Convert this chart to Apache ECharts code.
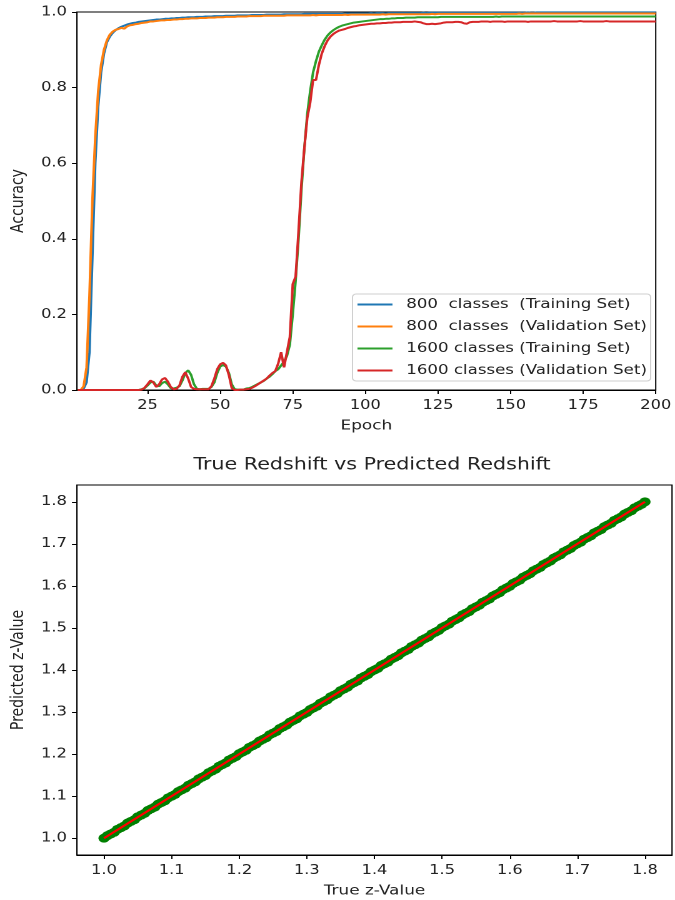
<!DOCTYPE html>
<html>
<head>
<meta charset="utf-8">
<script src="https://cdn.jsdelivr.net/npm/echarts@6/dist/echarts.min.js"></script>
<style>
html,body{margin:0;padding:0;background:#fff;overflow:hidden}
#wrap{width:675px;height:900px;overflow:hidden}
#c{width:540px;height:900px;transform:scaleX(1.25);transform-origin:0 0}
</style>
</head>
<body>
<div id="wrap"><div id="c"></div></div>
<script>
// ---------- Top chart data (accuracy per epoch 1..200) ----------
var epochTicks = [25, 50, 75, 100, 125, 150, 175, 200];
var accTicks = [0, 0.2, 0.4, 0.6, 0.8, 1.0];
var seriesNames = [
  "800  classes  (Training Set)",
  "800  classes  (Validation Set)",
  "1600 classes (Training Set)",
  "1600 classes (Validation Set)"
];
var train800 = [
  0, 0, 0.004, 0.02, 0.1, 0.35, 0.6, 0.75, 0.84, 0.89,
  0.92, 0.935, 0.945, 0.952, 0.957, 0.961, 0.964, 0.967, 0.969, 0.971,
  0.972, 0.974, 0.975, 0.976, 0.977, 0.978, 0.979, 0.98, 0.98, 0.981,
  0.982, 0.982, 0.983, 0.983, 0.984, 0.984, 0.985, 0.985, 0.986, 0.986,
  0.986, 0.987, 0.987, 0.987, 0.988, 0.988, 0.988, 0.989, 0.989, 0.989,
  0.989, 0.99, 0.99, 0.99, 0.99, 0.991, 0.991, 0.991, 0.991, 0.991,
  0.992, 0.992, 0.992, 0.992, 0.992, 0.993, 0.993, 0.993, 0.993, 0.993,
  0.993, 0.994, 0.994, 0.994, 0.994, 0.994, 0.994, 0.994, 0.995, 0.995,
  0.995, 0.995, 0.995, 0.995, 0.995, 0.995, 0.995, 0.995, 0.995, 0.995,
  0.995, 0.995, 0.996, 0.996, 0.996, 0.996, 0.996, 0.996, 0.996, 0.996,
  0.996, 0.997, 0.996, 0.997, 0.997, 0.997, 0.996, 0.997, 0.997, 0.997,
  0.997, 0.997, 0.997, 0.997, 0.997, 0.997, 0.997, 0.997, 0.997, 0.998,
  0.997, 0.998, 0.998, 0.998, 0.998, 0.998, 0.998, 0.998, 0.998, 0.998,
  0.998, 0.998, 0.998, 0.998, 0.998, 0.998, 0.998, 0.998, 0.998, 0.998,
  0.998, 0.998, 0.998, 0.998, 0.998, 0.998, 0.998, 0.998, 0.998, 0.998,
  0.998, 0.998, 0.998, 0.998, 0.998, 0.999, 0.998, 0.998, 0.999, 0.999,
  0.999, 0.999, 0.999, 0.999, 0.999, 0.999, 0.999, 0.999, 0.999, 0.999,
  0.999, 0.999, 0.999, 0.999, 0.999, 0.999, 0.999, 0.999, 0.999, 0.999,
  0.999, 0.999, 0.999, 0.999, 0.999, 0.999, 0.999, 0.999, 0.999, 0.999,
  0.999, 0.999, 0.999, 0.999, 0.999, 0.999, 0.999, 0.999, 0.999, 0.999
];
var val800 = [
  0, 0, 0.01, 0.06, 0.25, 0.5, 0.67, 0.79, 0.86, 0.9,
  0.925, 0.94, 0.948, 0.953, 0.955, 0.958, 0.956, 0.962, 0.965, 0.966,
  0.968, 0.969, 0.971, 0.972, 0.973, 0.975, 0.975, 0.976, 0.977, 0.978,
  0.978, 0.979, 0.979, 0.98, 0.98, 0.981, 0.981, 0.982, 0.982, 0.983,
  0.983, 0.983, 0.984, 0.984, 0.984, 0.985, 0.985, 0.985, 0.986, 0.986,
  0.986, 0.987, 0.987, 0.987, 0.987, 0.988, 0.988, 0.988, 0.988, 0.989,
  0.989, 0.989, 0.989, 0.989, 0.99, 0.99, 0.99, 0.99, 0.99, 0.99,
  0.99, 0.99, 0.991, 0.991, 0.991, 0.991, 0.991, 0.991, 0.991, 0.991,
  0.991, 0.992, 0.991, 0.992, 0.992, 0.992, 0.992, 0.992, 0.992, 0.992,
  0.992, 0.992, 0.993, 0.992, 0.993, 0.993, 0.993, 0.993, 0.993, 0.993,
  0.993, 0.993, 0.993, 0.993, 0.993, 0.994, 0.993, 0.994, 0.994, 0.994,
  0.994, 0.994, 0.994, 0.994, 0.994, 0.994, 0.994, 0.994, 0.994, 0.994,
  0.994, 0.994, 0.995, 0.994, 0.995, 0.995, 0.995, 0.995, 0.995, 0.995,
  0.995, 0.995, 0.995, 0.995, 0.995, 0.995, 0.995, 0.995, 0.995, 0.995,
  0.995, 0.995, 0.995, 0.995, 0.995, 0.995, 0.995, 0.995, 0.995, 0.995,
  0.995, 0.995, 0.996, 0.995, 0.996, 0.996, 0.996, 0.996, 0.996, 0.996,
  0.996, 0.996, 0.996, 0.996, 0.996, 0.996, 0.996, 0.996, 0.996, 0.996,
  0.996, 0.996, 0.996, 0.996, 0.996, 0.996, 0.996, 0.996, 0.996, 0.996,
  0.996, 0.996, 0.996, 0.996, 0.996, 0.996, 0.996, 0.996, 0.996, 0.996,
  0.996, 0.996, 0.996, 0.996, 0.996, 0.996, 0.996, 0.996, 0.996, 0.996
];
var train1600 = [
  0, 0, 0, 0, 0, 0, 0, 0, 0, 0,
  0, 0, 0, 0, 0, 0, 0, 0, 0, 0,
  0, 0, 0.002, 0.005, 0.012, 0.02, 0.022, 0.012, 0.01, 0.018,
  0.022, 0.015, 0.005, 0.004, 0.006, 0.01, 0.025, 0.045, 0.052, 0.04,
  0.015, 0.003, 0.002, 0.003, 0.003, 0.003, 0.008, 0.02, 0.045, 0.062,
  0.066, 0.062, 0.045, 0.015, 0.002, 0.001, 0.001, 0.001, 0.004, 0.005,
  0.008, 0.012, 0.016, 0.02, 0.024, 0.03, 0.035, 0.042, 0.05, 0.055,
  0.065, 0.075, 0.09, 0.12, 0.2, 0.29, 0.4, 0.53, 0.64, 0.73,
  0.79, 0.84, 0.87, 0.895, 0.912, 0.927, 0.938, 0.946, 0.952, 0.957,
  0.961, 0.964, 0.966, 0.968, 0.97, 0.972, 0.973, 0.974, 0.975, 0.976,
  0.977, 0.978, 0.979, 0.98, 0.981, 0.981, 0.982, 0.982, 0.983, 0.983,
  0.984, 0.984, 0.984, 0.985, 0.985, 0.985, 0.985, 0.986, 0.986, 0.986,
  0.986, 0.986, 0.986, 0.986, 0.986, 0.987, 0.987, 0.987, 0.987, 0.987,
  0.987, 0.987, 0.987, 0.987, 0.987, 0.987, 0.987, 0.987, 0.987, 0.987,
  0.987, 0.987, 0.987, 0.987, 0.988, 0.987, 0.988, 0.988, 0.988, 0.988,
  0.988, 0.988, 0.988, 0.988, 0.988, 0.988, 0.988, 0.988, 0.988, 0.988,
  0.988, 0.988, 0.988, 0.988, 0.988, 0.988, 0.988, 0.988, 0.988, 0.988,
  0.988, 0.988, 0.988, 0.988, 0.988, 0.988, 0.988, 0.988, 0.988, 0.988,
  0.988, 0.988, 0.988, 0.988, 0.988, 0.988, 0.988, 0.988, 0.988, 0.988,
  0.988, 0.988, 0.988, 0.988, 0.988, 0.988, 0.988, 0.988, 0.988, 0.988
];
var val1600 = [
  0, 0, 0, 0, 0, 0, 0, 0, 0, 0,
  0, 0, 0, 0, 0, 0, 0, 0, 0, 0,
  0, 0, 0.001, 0.006, 0.015, 0.025, 0.02, 0.008, 0.015, 0.028,
  0.032, 0.022, 0.008, 0.002, 0.003, 0.012, 0.035, 0.047, 0.03, 0.008,
  0.003, 0.002, 0.002, 0.002, 0.002, 0.002, 0.01, 0.03, 0.055, 0.068,
  0.072, 0.065, 0.04, 0.005, 0, 0, 0.001, 0.001, 0.002, 0.003,
  0.006, 0.01, 0.015, 0.02, 0.025, 0.03, 0.038, 0.045, 0.05, 0.07,
  0.1, 0.06, 0.1, 0.14, 0.28, 0.3, 0.42, 0.55, 0.64, 0.72,
  0.76, 0.82, 0.82, 0.86, 0.89, 0.91, 0.925, 0.935, 0.942, 0.947,
  0.951, 0.953, 0.955, 0.958, 0.96, 0.962, 0.963, 0.965, 0.966, 0.967,
  0.968, 0.969, 0.969, 0.97, 0.97, 0.971, 0.971, 0.972, 0.972, 0.973,
  0.973, 0.973, 0.974, 0.974, 0.974, 0.974, 0.975, 0.974, 0.973, 0.97,
  0.968, 0.968, 0.969, 0.968, 0.969, 0.97, 0.972, 0.973, 0.973, 0.973,
  0.974, 0.974, 0.973, 0.97, 0.969, 0.973, 0.974, 0.974, 0.974, 0.975,
  0.975, 0.975, 0.974, 0.975, 0.975, 0.975, 0.975, 0.974, 0.975, 0.975,
  0.975, 0.975, 0.975, 0.975, 0.975, 0.974, 0.975, 0.975, 0.975, 0.975,
  0.975, 0.975, 0.975, 0.975, 0.976, 0.975, 0.975, 0.975, 0.975, 0.975,
  0.975, 0.975, 0.975, 0.976, 0.975, 0.975, 0.975, 0.975, 0.975, 0.975,
  0.975, 0.975, 0.976, 0.975, 0.975, 0.975, 0.975, 0.975, 0.975, 0.975,
  0.975, 0.975, 0.975, 0.975, 0.975, 0.975, 0.975, 0.975, 0.975, 0.975
];

// ---------- Bottom chart data ----------
var zTicks = [1.0, 1.1, 1.2, 1.3, 1.4, 1.5, 1.6, 1.7, 1.8];
var trueZ = [
  1.000, 1.005, 1.010, 1.015, 1.020, 1.025, 1.030, 1.035, 1.040, 1.045,
  1.050, 1.055, 1.060, 1.065, 1.070, 1.075, 1.080, 1.085, 1.090, 1.095,
  1.100, 1.105, 1.110, 1.115, 1.120, 1.125, 1.130, 1.135, 1.140, 1.145,
  1.150, 1.155, 1.160, 1.165, 1.170, 1.175, 1.180, 1.185, 1.190, 1.195,
  1.200, 1.205, 1.210, 1.215, 1.220, 1.225, 1.230, 1.235, 1.240, 1.245,
  1.250, 1.255, 1.260, 1.265, 1.270, 1.275, 1.280, 1.285, 1.290, 1.295,
  1.300, 1.305, 1.310, 1.315, 1.320, 1.325, 1.330, 1.335, 1.340, 1.345,
  1.350, 1.355, 1.360, 1.365, 1.370, 1.375, 1.380, 1.385, 1.390, 1.395,
  1.400, 1.405, 1.410, 1.415, 1.420, 1.425, 1.430, 1.435, 1.440, 1.445,
  1.450, 1.455, 1.460, 1.465, 1.470, 1.475, 1.480, 1.485, 1.490, 1.495,
  1.500, 1.505, 1.510, 1.515, 1.520, 1.525, 1.530, 1.535, 1.540, 1.545,
  1.550, 1.555, 1.560, 1.565, 1.570, 1.575, 1.580, 1.585, 1.590, 1.595,
  1.600, 1.605, 1.610, 1.615, 1.620, 1.625, 1.630, 1.635, 1.640, 1.645,
  1.650, 1.655, 1.660, 1.665, 1.670, 1.675, 1.680, 1.685, 1.690, 1.695,
  1.700, 1.705, 1.710, 1.715, 1.720, 1.725, 1.730, 1.735, 1.740, 1.745,
  1.750, 1.755, 1.760, 1.765, 1.770, 1.775, 1.780, 1.785, 1.790, 1.795,
  1.800
];
var predZ = [
  1.000, 1.006, 1.010, 1.014, 1.021, 1.025, 1.029, 1.036, 1.040, 1.044,
  1.051, 1.055, 1.059, 1.066, 1.070, 1.074, 1.081, 1.085, 1.089, 1.096,
  1.100, 1.104, 1.111, 1.115, 1.119, 1.126, 1.130, 1.134, 1.141, 1.145,
  1.149, 1.156, 1.160, 1.164, 1.171, 1.175, 1.179, 1.186, 1.190, 1.194,
  1.201, 1.205, 1.209, 1.216, 1.220, 1.224, 1.231, 1.235, 1.239, 1.246,
  1.250, 1.254, 1.261, 1.265, 1.269, 1.276, 1.280, 1.284, 1.291, 1.295,
  1.299, 1.306, 1.310, 1.314, 1.321, 1.325, 1.329, 1.336, 1.340, 1.344,
  1.351, 1.355, 1.359, 1.366, 1.370, 1.374, 1.381, 1.385, 1.389, 1.396,
  1.400, 1.404, 1.411, 1.415, 1.419, 1.426, 1.430, 1.434, 1.441, 1.445,
  1.449, 1.456, 1.460, 1.464, 1.471, 1.475, 1.479, 1.486, 1.490, 1.494,
  1.501, 1.505, 1.509, 1.516, 1.520, 1.524, 1.531, 1.535, 1.539, 1.546,
  1.550, 1.554, 1.561, 1.565, 1.569, 1.576, 1.580, 1.584, 1.591, 1.595,
  1.599, 1.606, 1.610, 1.614, 1.621, 1.625, 1.629, 1.636, 1.640, 1.644,
  1.651, 1.655, 1.659, 1.666, 1.670, 1.674, 1.681, 1.685, 1.689, 1.696,
  1.700, 1.704, 1.711, 1.715, 1.719, 1.726, 1.730, 1.734, 1.741, 1.745,
  1.749, 1.756, 1.760, 1.764, 1.771, 1.775, 1.779, 1.786, 1.790, 1.794,
  1.800
];
var identityLine = [1.0, 1.8];

// ---------- Build options ----------
var colors = ['#1f77b4', '#ff7f0e', '#2ca02c', '#d62728'];
var accSeries = [train800, val800, train1600, val1600];
function pairs(vals) {
  var out = [];
  for (var i = 0; i < vals.length; i++) out.push([i + 1, vals[i]]);
  return out;
}
var scatterData = trueZ.map(function (t, i) { return [t, predZ[i]]; });
var font = 'DejaVu Sans';
var txt = '#222';
var axisLineStyle = { lineStyle: { color: '#000', width: 1 } };
var tickStyle = { show: true, inside: false, length: 4, lineStyle: { color: '#000' } };

var series = [];
accSeries.forEach(function (vals, k) {
  series.push({
    name: seriesNames[k], type: 'line', xAxisIndex: 0, yAxisIndex: 0,
    data: pairs(vals), symbol: 'none', showSymbol: false,
    lineStyle: { color: colors[k], width: 2 }, itemStyle: { color: colors[k] },
    animation: false
  });
});
series.push({
  type: 'scatter', xAxisIndex: 1, yAxisIndex: 1, data: scatterData,
  symbol: 'circle', symbolSize: 9, itemStyle: { color: '#008000', opacity: 1 },
  animation: false
});
series.push({
  type: 'line', xAxisIndex: 1, yAxisIndex: 1,
  data: identityLine.map(function (v) { return [v, v]; }),
  symbol: 'none', lineStyle: { color: '#ff0000', width: 2 }, animation: false
});

var option = {
  backgroundColor: '#fff',
  animation: false,
  textStyle: { fontFamily: font },
  grid: [
    { left: 56, top: 12, width: 472, height: 378, show: true, borderColor: '#000', borderWidth: 1, containLabel: false },
    { left: 57.6, top: 485, width: 480, height: 370, show: true, borderColor: '#000', borderWidth: 1, containLabel: false }
  ],
  legend: {
    data: seriesNames,
    orient: 'vertical',
    left: 282, top: 294,
    icon: 'path://M0,0 L28,0 L28,2 L0,2 Z',
    itemWidth: 28, itemHeight: 14, itemGap: 9,
    padding: [4, 3, 4, 4],
    backgroundColor: 'rgba(255,255,255,0.8)',
    borderColor: '#d0d0d0', borderWidth: 1, borderRadius: 3,
    textStyle: { fontFamily: font, fontSize: 13.3, color: txt, padding: [0, 0, 0, 6] }
  },
  graphic: [
    { type: 'text', x: 297.6, y: 465, style: { text: 'True Redshift vs Predicted Redshift', font: '16.5px "DejaVu Sans"', fill: txt, textAlign: 'center', textVerticalAlign: 'middle' } }
  ],
  xAxis: [
    {
      gridIndex: 0, type: 'value', min: 0.7, max: 200,
      name: 'Epoch', nameLocation: 'middle', nameGap: 29,
      nameTextStyle: { fontFamily: font, fontSize: 13.5, color: txt },
      axisLine: axisLineStyle, axisTick: Object.assign({ customValues: epochTicks }, tickStyle),
      axisLabel: { customValues: epochTicks, fontFamily: font, fontSize: 13, color: txt, margin: 9 },
      splitLine: { show: false }
    },
    {
      gridIndex: 1, type: 'value', min: 0.96, max: 1.84,
      name: 'True z-Value', nameLocation: 'middle', nameGap: 29,
      nameTextStyle: { fontFamily: font, fontSize: 13.5, color: txt },
      axisLine: axisLineStyle, axisTick: Object.assign({ customValues: zTicks }, tickStyle),
      axisLabel: { customValues: zTicks, fontFamily: font, fontSize: 13, color: txt, margin: 9,
        formatter: function (v) { return v.toFixed(1); } },
      splitLine: { show: false }
    }
  ],
  yAxis: [
    {
      gridIndex: 0, type: 'value', min: 0, max: 1,
      name: 'Accuracy', nameLocation: 'middle', nameGap: 35,
      nameTextStyle: { fontFamily: font, fontSize: 14, color: txt },
      axisLine: axisLineStyle, axisTick: Object.assign({ customValues: accTicks }, tickStyle),
      axisLabel: { customValues: accTicks, fontFamily: font, fontSize: 13, color: txt, margin: 8,
        formatter: function (v) { return v.toFixed(1); } },
      splitLine: { show: false }
    },
    {
      gridIndex: 1, type: 'value', min: 0.96, max: 1.84,
      name: 'Predicted z-Value', nameLocation: 'middle', nameGap: 36,
      nameTextStyle: { fontFamily: font, fontSize: 14, color: txt },
      axisLine: axisLineStyle, axisTick: Object.assign({ customValues: zTicks }, tickStyle),
      axisLabel: { customValues: zTicks, fontFamily: font, fontSize: 13, color: txt, margin: 8,
        formatter: function (v) { return v.toFixed(1); } },
      splitLine: { show: false }
    }
  ],
  series: series
};
var chart = echarts.init(document.getElementById('c'), null, { renderer: 'canvas', devicePixelRatio: 2 });
chart.setOption(option);
</script>
</body>
</html>
